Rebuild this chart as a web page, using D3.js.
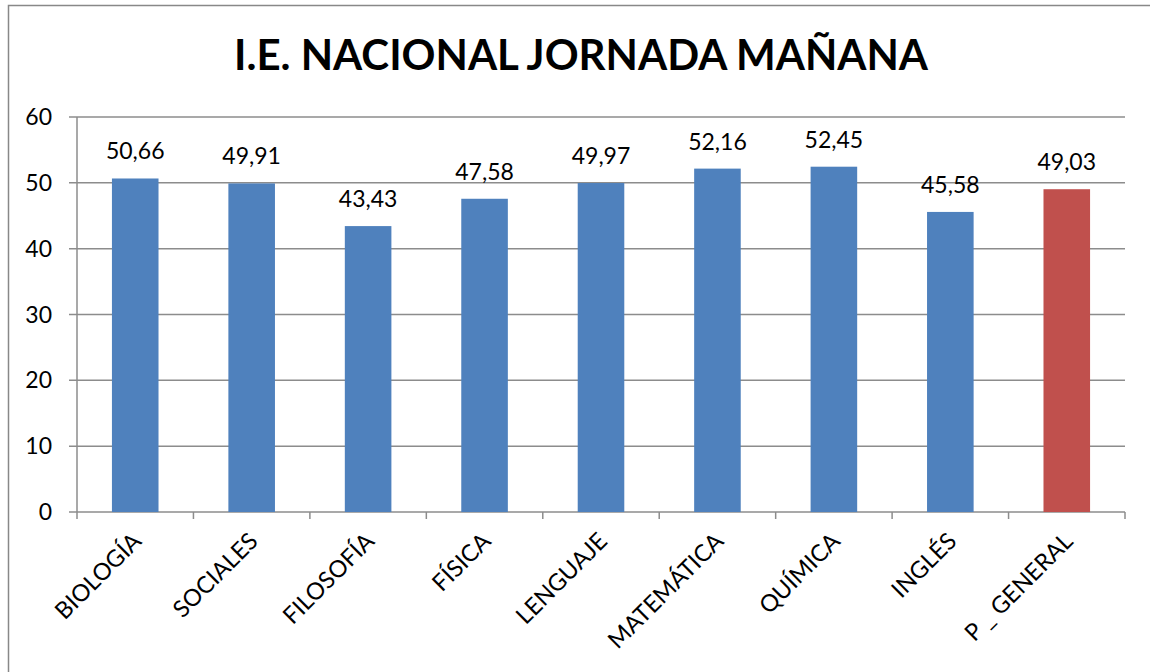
<!DOCTYPE html>
<html>
<head>
<meta charset="utf-8">
<script src="https://cdn.jsdelivr.net/npm/d3@7"></script>
<style>
  body { margin: 0; background: #fff; }
  svg { display: block; font-family: Lato, "Open Sans", sans-serif; }
</style>
</head>
<body>
<svg id="chart" width="1150" height="672"></svg>
<script>
const categories = ["BIOLOGÍA", "SOCIALES", "FILOSOFÍA", "FÍSICA", "LENGUAJE", "MATEMÁTICA", "QUÍMICA", "INGLÉS", "P _ GENERAL"];
const values = [50.66, 49.91, 43.43, 47.58, 49.97, 52.16, 52.45, 45.58, 49.03];
const yTicks = [0, 10, 20, 30, 40, 50, 60];
const title = "I.E. NACIONAL JORNADA MAÑANA";

const blue = "#4f81bd";
const red = "#c0504d";

const svg = d3.select("#chart");

// outer chart frame (right and bottom edges fall outside the picture)
svg.append("rect")
  .attr("x", 8.5).attr("y", 5.5)
  .attr("width", 1200).attr("height", 700)
  .attr("fill", "none")
  .attr("stroke", "#888")
  .attr("stroke-width", 1.5);

const plot = { left: 77, right: 1125, top: 117, bottom: 512 };

const x = d3.scaleBand()
  .domain(categories)
  .range([plot.left, plot.right])
  .paddingInner(0.6)
  .paddingOuter(0.3);

const y = d3.scaleLinear()
  .domain([0, 60])
  .range([plot.bottom, plot.top]);

// gridlines
svg.append("g")
  .selectAll("line")
  .data(yTicks)
  .join("line")
  .attr("x1", plot.left - 8).attr("x2", plot.right)
  .attr("y1", d => y(d)).attr("y2", d => y(d))
  .attr("stroke", "#8c8c8c")
  .attr("stroke-width", 1.5);

// y axis line
svg.append("line")
  .attr("x1", plot.left).attr("x2", plot.left)
  .attr("y1", plot.top).attr("y2", plot.bottom)
  .attr("stroke", "#8c8c8c")
  .attr("stroke-width", 1.5);

// y tick labels
svg.append("g")
  .selectAll("text")
  .data(yTicks)
  .join("text")
  .attr("x", plot.left - 25)
  .attr("y", d => y(d))
  .attr("dy", "0.35em")
  .attr("text-anchor", "end")
  .attr("font-size", 23)
  .attr("fill", "#000")
  .text(d => d);

// x ticks at category boundaries
const bounds = d3.range(categories.length + 1).map(i => plot.left + i * (plot.right - plot.left) / categories.length);
svg.append("g")
  .selectAll("line")
  .data(bounds)
  .join("line")
  .attr("x1", d => d).attr("x2", d => d)
  .attr("y1", plot.bottom).attr("y2", plot.bottom + 7)
  .attr("stroke", "#8c8c8c")
  .attr("stroke-width", 1.5);

// bars
svg.append("g")
  .selectAll("rect")
  .data(values)
  .join("rect")
  .attr("x", (d, i) => x(categories[i]))
  .attr("width", x.bandwidth())
  .attr("y", d => y(d))
  .attr("height", d => y(0) - y(d))
  .attr("fill", (d, i) => i === categories.length - 1 ? red : blue);

const fmt = d => d.toFixed(2).replace(".", ",");

// value labels
svg.append("g")
  .selectAll("text")
  .data(values)
  .join("text")
  .attr("x", (d, i) => x(categories[i]) + x.bandwidth() / 2)
  .attr("y", d => y(d) - 19)
  .attr("text-anchor", "middle")
  .attr("font-size", 23)
  .attr("fill", "#000")
  .text(fmt);

// category labels, rotated
svg.append("g")
  .selectAll("text")
  .data(categories)
  .join("text")
  .attr("transform", d => `translate(${x(d) + x.bandwidth() / 2 - 4},${plot.bottom + 19}) rotate(-45)`)
  .attr("text-anchor", "end")
  .attr("dy", "0.7em")
  .attr("font-size", 23.5)
  .attr("fill", "#000")
  .text(d => d);

// title
svg.append("text")
  .attr("x", 581)
  .attr("y", 70)
  .attr("text-anchor", "middle")
  .attr("font-size", 42)
  .attr("font-weight", "bold")
  .attr("fill", "#000")
  .text(title);
</script>
</body>
</html>
